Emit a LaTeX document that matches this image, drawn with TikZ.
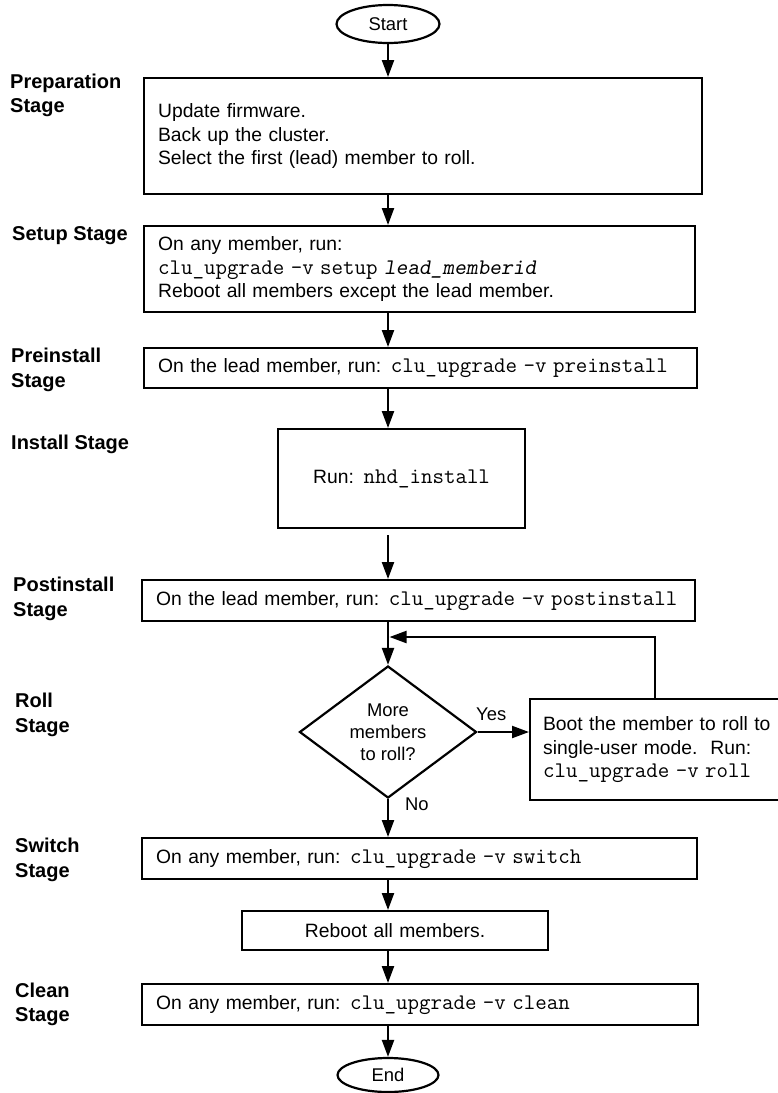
\documentclass[tikz,border=0pt]{standalone}
\usepackage{fontspec}
\setmainfont{Liberation Sans}
\newfontfamily\cmdslant{lmmonoslant10-regular.otf}
\usepackage{tikz}
\usetikzlibrary{shapes.geometric}
\usetikzlibrary{arrows.meta}

\newcommand{\boxfont}{\fontsize{19.3}{23.4}\selectfont}
\newcommand{\stagefont}{\fontsize{20}{24.4}\selectfont\bfseries}
\newcommand{\cmdtext}[1]{{\fontsize{22.3}{23.4}\selectfont\ttfamily #1}}
\newcommand{\cmdarg}[1]{{\fontsize{22.3}{23.4}\selectfont\cmdslant #1}}

\tikzset{
  stagelabel/.style={font=\stagefont, align=left, anchor=north west, inner sep=0pt},
  stepbox/.style={draw, line width=2.2pt, inner xsep=14pt, inner ysep=0pt,
    align=left, anchor=north west, font=\boxfont},
  terminal/.style={ellipse, draw, line width=2.2pt, inner sep=0pt,
    font=\fontsize{18.4}{22}\selectfont},
  decision/.style={diamond, draw, line width=2.2pt, inner sep=0pt, aspect=1.33,
    minimum width=177pt, minimum height=132pt, align=center,
    font=\fontsize{18.4}{22}\selectfont},
  flowlabel/.style={font=\fontsize{18.4}{22}\selectfont, inner sep=0pt, anchor=base west},
  flow/.style={-{Stealth[length=17pt,width=12pt,inset=0pt]}, line width=2.2pt}
}

\begin{document}
\begin{tikzpicture}[x=1pt,y=-1pt]
  \useasboundingbox (0,0) rectangle (777,1093);

  % stages
  \node[stagelabel] (lprep) at (10,73.5) {Preparation\\Stage};
  \node[stagelabel] (lsetup) at (12,226.5) {Setup Stage};
  \node[stagelabel] (lpre) at (11,348) {Preinstall\\Stage};
  \node[stagelabel] (linstall) at (11,434.5) {Install Stage};
  \node[stagelabel] (lpost) at (13,577) {Postinstall\\Stage};
  \node[stagelabel] (lroll) at (15,693) {Roll\\Stage};
  \node[stagelabel] (lswitch) at (15,838) {Switch\\Stage};
  \node[stagelabel] (lclean) at (15,982.5) {Clean\\Stage};

  % flow
  \node[terminal, minimum width=103pt, minimum height=38pt] (start) at (388,24) {Start};
  \node[stepbox, text width=530pt, minimum height=116pt] (prep) at (143,77)
    {Update firmware.\\Back up the cluster.\\Select the first (lead) member to roll.};
  \node[stepbox, text width=523pt, minimum height=86pt] (setup) at (143,225)
    {On any member, run:\\\cmdtext{clu\_upgrade -v setup} \cmdarg{lead\_memberid}\\Reboot all members except the lead member.};
  \node[stepbox, text width=525pt, minimum height=40pt] (pre) at (143,347)
    {\mbox{On the lead member, run: \cmdtext{clu\_upgrade -v preinstall}}};
  \node[stepbox, align=center, text width=219pt, minimum height=99pt] (install) at (277,428)
    {Run: \cmdtext{nhd\_install}};
  \node[stepbox, text width=525pt, minimum height=41pt] (post) at (141,579)
    {\mbox{On the lead member, run: \cmdtext{clu\_upgrade -v postinstall}}};
  \node[decision] (dec) at (388,732) {More\\members\\to roll?};
  \node[stepbox, inner xsep=13pt, text width=224pt, minimum height=101pt] (roll) at (529,698)
    {\mbox{Boot the member to roll to}\\\mbox{single-user mode.\ \ Run:}\\\cmdtext{clu\_upgrade -v roll}};
  \node[stepbox, text width=527pt, minimum height=41pt] (switch) at (141,837)
    {\mbox{On any member, run: \cmdtext{clu\_upgrade -v switch}}};
  \node[stepbox, align=center, text width=278pt, minimum height=39pt] (reboot) at (241,910)
    {Reboot all members.};
  \node[stepbox, text width=528pt, minimum height=41pt] (clean) at (141,983)
    {\mbox{On any member, run: \cmdtext{clu\_upgrade -v clean}}};
  \node[terminal, minimum width=101pt, minimum height=34pt] (end) at (388,1075) {End};

  \node[flowlabel] (yes) at (476,720) {Yes};
  \node[flowlabel] (no) at (405,810) {No};
  \coordinate (join) at (389.5,637);

  \path[flow]
    (start) edge (start |- prep.north)
    (prep.south -| start) edge (setup.north -| start)
    (setup.south -| start) edge (pre.north -| start)
    (pre.south -| start) edge (install.north -| start)
    (install.south -| start) edge [shorten <=6pt] (post.north -| start)
    (post.south -| start) edge (dec)
    (dec) edge (dec.east -| roll.west)
    (dec) edge (dec |- switch.north)
    (switch.south -| start) edge (reboot.north -| start)
    (reboot.south -| start) edge (clean.north -| start)
    (clean.south -| start) edge (end);
  \draw[flow] (roll.north) |- (join);
\end{tikzpicture}
\end{document}
